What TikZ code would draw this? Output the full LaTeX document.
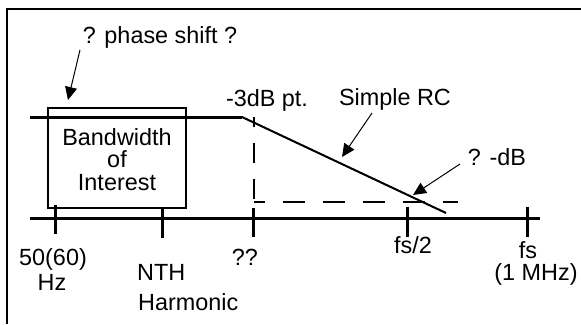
\documentclass[tikz,border=0pt]{standalone}
\usepackage{fontspec}
\setmainfont{Liberation Sans}
\usetikzlibrary{arrows.meta}
\begin{document}
\begin{tikzpicture}[x=1pt,y=-1pt,
  lbl/.style={font=\fontsize{23.4}{28}\selectfont, inner sep=0pt, anchor=base},
  lblw/.style={font=\fontsize{23.4}{28}\selectfont, inner sep=0pt, anchor=base west},
  thick3/.style={line width=3pt},
  tickmark/.style={line width=3pt},
  dashline/.style={line width=2pt, dash pattern=on 22pt off 18pt},
  pointer/.style={line width=1pt, -{Triangle[length=13pt,width=12pt]}}]
\useasboundingbox (0,0) rectangle (581,324);
% frame
\draw[line width=2pt] (7,324) -- (7,9) -- (581,9);
% response curve
\coordinate (c0) at (30,117);
\coordinate (knee) at (242,117);
\coordinate (c1) at (446,213);
\draw[thick3] (c0) -- (knee);
\draw[line width=2pt] (knee) -- (c1);
% box
\draw[line width=1.5pt] (48,108) rectangle (186,208);
% axis
\coordinate (a0) at (30,218);
\coordinate (a1) at (540,218);
\draw[thick3] (a0) -- (a1);
% ticks
\draw[tickmark] (55,205) -- (55,234);
\draw[tickmark] (162,209) -- (162,238);
\draw[tickmark] (253.5,208) -- (253.5,237);
\draw[tickmark] (407,207) -- (407,237);
\draw[tickmark] (527,207) -- (527,237);
% dashed lines
\coordinate (d0) at (253.5,117);
\coordinate (d1) at (253.5,202);
\coordinate (d2) at (458,202);
\draw[line width=2pt, dash pattern=on 20pt off 16pt, dash phase=10pt] (d0) -- (253.5,218);
\draw[dashline, dash phase=11pt] (d1) -- (d2);
% labels
\node[lbl] (ps) at (160,43) {? phase shift ?};
\node[lbl] (db3) at (267,106) {-3dB pt.};
\node[lbl] (rc) at (395,105) {Simple RC};
\node[lbl] (mdb) at (497,165) {? -dB};
\node[lbl] (bw1) at (117,145) {Bandwidth};
\node[lbl] (bw2) at (117,167) {of};
\node[lbl] (bw3) at (117,190) {Interest};
\node[lbl] (f1a) at (53,265) {50(60)};
\node[lbl] (f1b) at (52,290) {Hz};
\node[lblw] (f2a) at (137,280) {NTH};
\node[lblw] (f2b) at (138,310) {Harmonic};
\node[lbl] (f3) at (245,265) {??};
\node[lbl] (f4) at (413,253) {fs/2};
\node[lbl] (f5a) at (528,258) {fs};
\node[lbl] (f5b) at (536,280) {(1 MHz)};
% pointers
\coordinate (p1s) at (80,50);
\coordinate (p1t) at (68,100);
\coordinate (p2s) at (372,113);
\coordinate (p2t) at (342,157);
\coordinate (p3s) at (460,164);
\coordinate (p3t) at (413,195);
\draw[pointer] (p1s) -- (p1t);
\draw[pointer] (p2s) -- (p2t);
\draw[pointer] (p3s) -- (p3t);
\end{tikzpicture}
\end{document}
